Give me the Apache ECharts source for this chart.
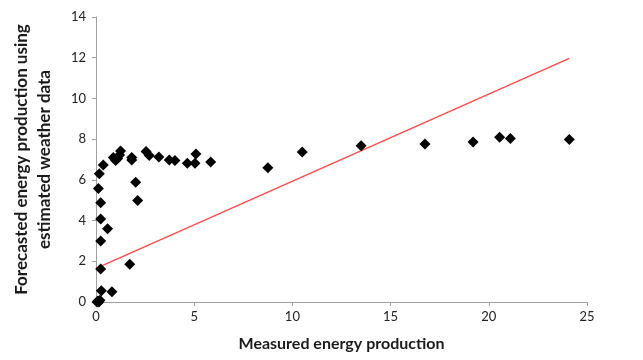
<!DOCTYPE html>
<html>
<head>
<meta charset="utf-8">
<script src="https://cdn.jsdelivr.net/npm/echarts@6/dist/echarts.min.js"></script>
<style>html,body{margin:0;padding:0;background:#fff}#c{width:643px;height:360px}</style>
</head>
<body>
<div id="c"></div>
<script>
const measured = [0.05,0.1,0.15,0.2,0.27,0.81,0.24,1.72,0.24,0.59,0.24,0.24,0.12,0.17,0.37,2.12,2.02,1.82,1.82,0.88,1.0,1.1,1.2,1.25,2.55,2.71,3.2,3.73,4.02,4.65,5.04,5.09,5.84,8.75,10.5,13.5,16.75,19.2,20.55,21.1,24.1];
const forecast = [0.0,0.05,0.0,0.08,0.55,0.5,1.62,1.85,3.0,3.6,4.08,4.88,5.58,6.3,6.73,4.98,5.88,6.98,7.1,7.1,6.95,7.05,7.22,7.42,7.39,7.2,7.12,6.98,6.95,6.81,6.81,7.27,6.88,6.6,7.37,7.67,7.76,7.86,8.09,8.03,7.98];
const trendX = [0, 24.1];
const trendY = [1.65, 11.97];
const xTicks = {min: 0, max: 25, interval: 5};
const yTicks = {min: 0, max: 14, interval: 2};
const xTitle = 'Measured energy production';
const yTitle = 'Forecasted energy production using\nestimated weather data';

const chart = echarts.init(document.getElementById('c'));
const font = 'Lato, "Open Sans", sans-serif';
chart.setOption({
  animation: false,
  grid: {left: 96, right: 56, top: 17, bottom: 58},
  xAxis: {
    type: 'value', min: xTicks.min, max: xTicks.max, interval: xTicks.interval,
    name: xTitle, nameLocation: 'middle', nameGap: 34,
    nameTextStyle: {fontFamily: font, fontWeight: 'bold', fontSize: 16, color: '#1a1a1a'},
    axisLine: {show: true, lineStyle: {color: '#a0a0a0'}},
    axisTick: {show: true, length: 4, lineStyle: {color: '#a0a0a0'}},
    axisLabel: {fontFamily: font, fontSize: 13, color: '#222', margin: 8},
    splitLine: {show: false}
  },
  yAxis: {
    type: 'value', min: yTicks.min, max: yTicks.max, interval: yTicks.interval,
    name: yTitle, nameLocation: 'middle', nameGap: 40,
    nameTextStyle: {fontFamily: font, fontWeight: 'bold', fontSize: 17, color: '#1a1a1a', lineHeight: 23},
    axisLine: {show: true, lineStyle: {color: '#a0a0a0'}},
    axisTick: {show: true, length: 4, lineStyle: {color: '#a0a0a0'}},
    axisLabel: {fontFamily: font, fontSize: 13, color: '#222', margin: 10},
    splitLine: {show: false}
  },
  series: [
    {
      type: 'line',
      data: trendX.map((x, i) => [x, trendY[i]]),
      showSymbol: false,
      lineStyle: {color: '#ff4d4d', width: 1.5},
      z: 1
    },
    {
      type: 'scatter',
      data: measured.map((x, i) => [x, forecast[i]]),
      symbol: 'diamond',
      symbolSize: 11,
      itemStyle: {color: '#000', opacity: 1},
      z: 2
    }
  ]
});
</script>
</body>
</html>
